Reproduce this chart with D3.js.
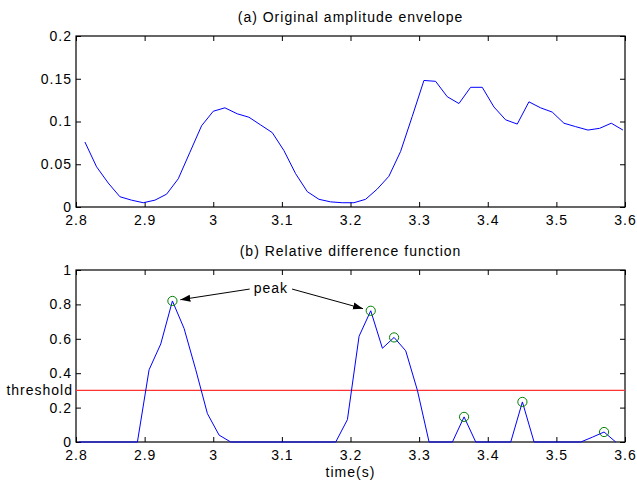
<!DOCTYPE html>
<html>
<head>
<meta charset="utf-8">
<script src="https://cdn.jsdelivr.net/npm/d3@7"></script>
<style>
  body { margin: 0; background: #fff; }
  svg { display: block; }
  text { font-family: "Liberation Sans", Arial, sans-serif; font-size: 14px; letter-spacing: 1px; fill: #000; }
</style>
</head>
<body>
<script>
// (a) amplitude envelope samples
const envTime = [2.813, 2.830, 2.847, 2.864, 2.881, 2.898, 2.915, 2.932, 2.949, 2.966,
  2.983, 3.000, 3.017, 3.035, 3.052, 3.069, 3.086, 3.103, 3.120, 3.137,
  3.154, 3.171, 3.188, 3.205, 3.222, 3.239, 3.256, 3.273, 3.290, 3.307,
  3.324, 3.341, 3.358, 3.375, 3.392, 3.409, 3.426, 3.443, 3.460, 3.477,
  3.494, 3.511, 3.528, 3.546, 3.563, 3.580, 3.597];
const envAmp = [0.076, 0.047, 0.028, 0.012, 0.008, 0.005, 0.008, 0.015, 0.033, 0.064,
  0.095, 0.112, 0.116, 0.109, 0.105, 0.096, 0.087, 0.066, 0.039, 0.018,
  0.009, 0.006, 0.005, 0.005, 0.009, 0.021, 0.036, 0.065, 0.106, 0.148,
  0.147, 0.129, 0.121, 0.140, 0.140, 0.117, 0.102, 0.097, 0.123, 0.116,
  0.111, 0.098, 0.094, 0.090, 0.092, 0.098, 0.090];

// (b) relative difference function
const diffTime = [2.8045, 2.8215, 2.8385, 2.8555, 2.8725, 2.8895, 2.9065, 2.9235, 2.9405, 2.9575,
  2.9745, 2.9915, 3.0085, 3.0255, 3.0425, 3.0595, 3.0765, 3.0935, 3.1105, 3.1275,
  3.1445, 3.1615, 3.1785, 3.1955, 3.2125, 3.2295, 3.2465, 3.2635, 3.2805, 3.2975,
  3.3145, 3.3315, 3.3485, 3.3655, 3.3825, 3.3995, 3.4165, 3.4335, 3.4505, 3.4675,
  3.4845, 3.5015, 3.5185, 3.5355, 3.5525, 3.5695, 3.5865];
const diffVal = [0, 0, 0, 0, 0, 0, 0.42, 0.57, 0.82, 0.66,
  0.42, 0.165, 0.04, 0, 0, 0, 0, 0, 0, 0,
  0, 0, 0, 0.13, 0.615, 0.763, 0.545, 0.608, 0.53, 0.3,
  0, 0, 0, 0.146, 0, 0, 0, 0, 0.233, 0,
  0, 0, 0, 0, 0.028, 0.058, 0];
const peakIdx = [8, 25, 27, 33, 38, 45];
const arrowIdx = [8, 25];
const threshold = 0.3;

const xTicks = [2.8, 2.9, 3, 3.1, 3.2, 3.3, 3.4, 3.5, 3.6];
const yTicksA = [0, 0.05, 0.1, 0.15, 0.2];
const yTicksB = [0, 0.2, 0.4, 0.6, 0.8, 1];

const width = 637, height = 481;
const left = 76, right = 625;

const svg = d3.select('body').append('svg')
  .attr('width', width)
  .attr('height', height);

svg.append('defs').append('marker')
  .attr('id', 'head')
  .attr('viewBox', '0 -4 10 8')
  .attr('refX', 10)
  .attr('refY', 0)
  .attr('markerWidth', 10)
  .attr('markerHeight', 8)
  .attr('markerUnits', 'userSpaceOnUse')
  .attr('orient', 'auto')
  .append('path')
  .attr('d', 'M0,-3.5L10,0L0,3.5Z')
  .attr('fill', '#000');

const fmt = d3.format('~g');

const drawPanel = (top, bottom, yDomain, yTicks, title) => {
  const x = d3.scaleLinear().domain([2.8, 3.6]).range([left, right]);
  const y = d3.scaleLinear().domain(yDomain).range([bottom, top]);
  const g = svg.append('g');

  g.append('g')
    .attr('transform', `translate(0,${bottom})`)
    .call(d3.axisBottom(x).tickValues(xTicks).tickFormat(fmt).tickSizeInner(-5).tickSizeOuter(0).tickPadding(8));
  g.append('g')
    .attr('transform', `translate(0,${top})`)
    .call(d3.axisTop(x).tickValues(xTicks).tickFormat('').tickSizeInner(-5).tickSizeOuter(0));
  g.append('g')
    .attr('transform', `translate(${left},0)`)
    .call(d3.axisLeft(y).tickValues(yTicks).tickFormat(fmt).tickSizeInner(-5).tickSizeOuter(0).tickPadding(4));
  g.append('g')
    .attr('transform', `translate(${right},0)`)
    .call(d3.axisRight(y).tickValues(yTicks).tickFormat('').tickSizeInner(-5).tickSizeOuter(0));

  g.selectAll('.domain').remove();
  g.selectAll('.tick line').attr('stroke', '#000');
  g.selectAll('.tick text')
    .attr('fill', '#000')
    .style('font-family', '"Liberation Sans", Arial, sans-serif')
    .style('font-size', '14px');

  g.append('rect')
    .attr('x', left)
    .attr('y', top)
    .attr('width', right - left)
    .attr('height', bottom - top)
    .attr('fill', 'none')
    .attr('stroke', '#000')
    .attr('stroke-width', 1.2);

  g.append('text')
    .attr('x', (left + right) / 2)
    .attr('y', top - 14)
    .attr('text-anchor', 'middle')
    .text(title);

  return { x, y, g };
};

// panel (a)
const pa = drawPanel(36, 207, [0, 0.2], yTicksA, '(a) Original amplitude envelope');

pa.g.append('path')
  .datum(envTime.map((t, i) => [t, envAmp[i]]))
  .attr('fill', 'none')
  .attr('stroke', '#0000ff')
  .attr('stroke-width', 1)
  .attr('d', d3.line().x(d => pa.x(d[0])).y(d => pa.y(d[1])));

// panel (b)
const pb = drawPanel(270, 442, [0, 1], yTicksB, '(b) Relative difference function');

pb.g.append('line')
  .attr('x1', left)
  .attr('x2', right)
  .attr('y1', pb.y(threshold))
  .attr('y2', pb.y(threshold))
  .attr('stroke', '#ff3333')
  .attr('stroke-width', 1.2);

pb.g.append('text')
  .attr('x', left - 3)
  .attr('y', pb.y(threshold) + 5)
  .attr('text-anchor', 'end')
  .text('threshold');

pb.g.append('path')
  .datum(diffTime.map((t, i) => [t, diffVal[i]]))
  .attr('fill', 'none')
  .attr('stroke', '#0000ff')
  .attr('stroke-width', 1)
  .attr('d', d3.line().x(d => pb.x(d[0])).y(d => pb.y(d[1])));

pb.g.selectAll('circle.peak')
  .data(peakIdx)
  .enter()
  .append('circle')
  .attr('class', 'peak')
  .attr('cx', i => pb.x(diffTime[i]))
  .attr('cy', i => pb.y(diffVal[i]))
  .attr('r', 4.6)
  .attr('fill', 'none')
  .attr('stroke', '#008000')
  .attr('stroke-width', 1);

// "peak" annotation with arrows
const labelT = 3.084, labelV = 0.866;
const lx = pb.x(labelT), ly = pb.y(labelV);
const label = pb.g.append('text')
  .attr('x', lx)
  .attr('y', ly)
  .attr('text-anchor', 'middle')
  .text('peak');
const halfW = label.node().getComputedTextLength() / 2;

arrowIdx.forEach(i => {
  const px = pb.x(diffTime[i]), py = pb.y(diffVal[i]);
  const sx = px < lx ? lx - halfW - 4 : lx + halfW + 4;
  const sy = ly - 4;
  const dx = px - sx, dy = py - sy;
  const len = Math.sqrt(dx * dx + dy * dy);
  pb.g.append('line')
    .attr('x1', sx)
    .attr('y1', sy)
    .attr('x2', px - dx / len * 8)
    .attr('y2', py - dy / len * 8)
    .attr('stroke', '#000')
    .attr('stroke-width', 1)
    .attr('marker-end', 'url(#head)');
});

svg.append('text')
  .attr('x', (left + right) / 2)
  .attr('y', 477)
  .attr('text-anchor', 'middle')
  .text('time(s)');
</script>
</body>
</html>
